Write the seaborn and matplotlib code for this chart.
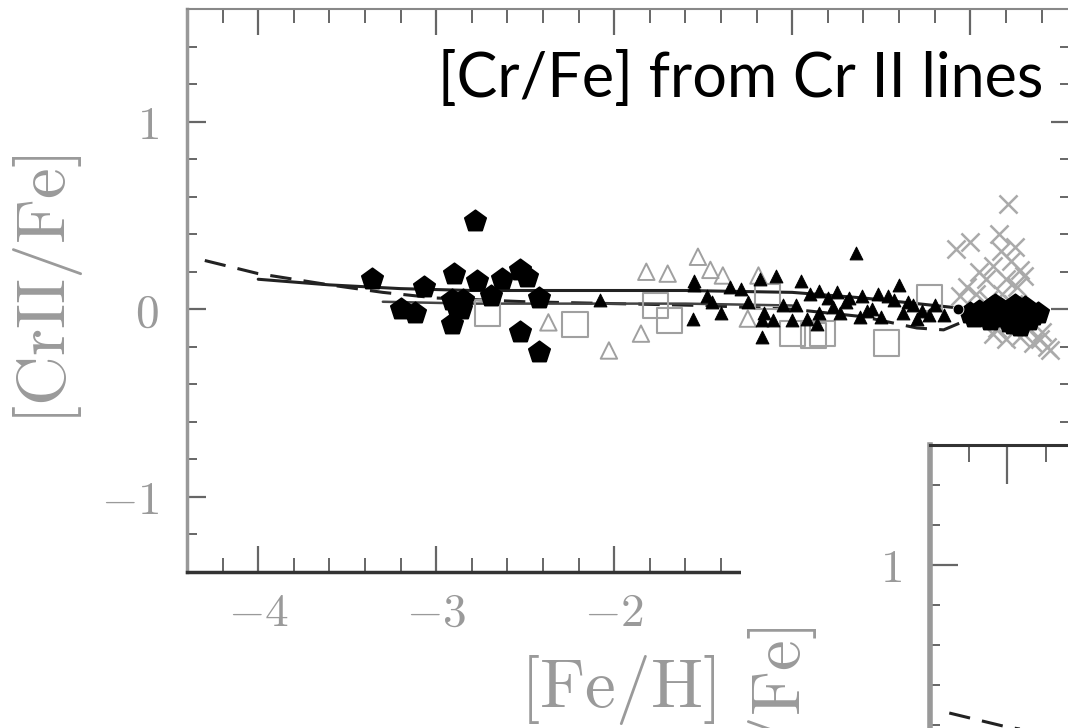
import numpy as np
import pandas as pd
import matplotlib
matplotlib.use("Agg")
import matplotlib.pyplot as plt
import seaborn as sns
from matplotlib.patches import Rectangle
from matplotlib.ticker import MultipleLocator

# ==== data ([Fe/H], [CrII/Fe]) ====
pent_x = [-3.36, -3.07, -2.90, -2.78, -2.77, -2.63, -2.53, -2.49, -2.69, -2.42, -2.91, -2.85,
          -2.86, -3.20, -3.12, -2.91, -2.53, -2.42, -2.89,
          0.05, 0.17, 0.28, 0.35, 0.11, 0.22, 0.28, 0.02, 0.14, 0.31,
          0.08, 0.19, 0.25, 0.33, 0.12, 0.38, 0.00, 0.24]
pent_y = [0.16, 0.12, 0.19, 0.47, 0.15, 0.16, 0.21, 0.17, 0.07, 0.06, 0.05, 0.05,
          0.00, 0.00, -0.02, -0.08, -0.12, -0.23, 0.02,
          -0.01, 0.00, -0.01, -0.03, -0.06, -0.07, -0.09, -0.04, 0.02, 0.01,
          -0.03, -0.04, 0.02, -0.06, 0.01, -0.02, -0.02, -0.08]

tri_x = [-2.08, -1.55, -1.48, -1.40, -1.56, -1.29, -1.18, -1.09, -0.95, -0.85, -1.17, -1.17,
         -1.11, -1.00, -0.86, -0.77, -1.55, -1.16, -0.64, -0.40, -0.61, -0.43, -0.73, -0.62,
         -0.38, -0.23, -0.85, -0.70, -0.55, -0.50, -0.32, -0.27, -0.90, -0.98, -0.80, -0.46,
         -1.35, -1.25, -1.05, -0.92, -0.68, -0.58, -0.52, -0.35, -0.30, -0.20, -0.75, -1.45,
         -0.15]
tri_y = [0.05, 0.15, 0.07, -0.02, -0.05, 0.11, 0.16, 0.18, 0.15, 0.10, -0.06, -0.15,
         -0.06, -0.06, -0.08, 0.01, 0.13, -0.02, 0.30, 0.13, 0.07, 0.05, -0.02, -0.04,
         -0.02, -0.03, -0.02, 0.04, 0.00, -0.04, 0.02, -0.01, 0.08, 0.02, 0.06, 0.07,
         0.12, 0.04, 0.02, -0.05, 0.06, -0.01, 0.08, 0.04, -0.05, 0.02, 0.09, 0.04,
         -0.03]

otri_x = [-2.37, -1.82, -1.70, -1.53, -1.46, -1.39, -1.85, -2.03, -1.19, -1.25]
otri_y = [-0.07, 0.20, 0.19, 0.28, 0.21, 0.18, -0.13, -0.22, 0.18, -0.05]

sq_x = [-2.71, -2.22, -1.77, -1.69, -1.14, -1.00, -0.88, -0.47, -0.23, -0.83]
sq_y = [-0.02, -0.08, 0.02, -0.06, 0.07, -0.13, -0.14, -0.18, 0.06, -0.13]

cross_x = [0.21, -0.08, 0.00, 0.16, 0.17, 0.23, 0.28, 0.13, 0.20, 0.09, -0.02, 0.03,
           -0.06, 0.26, 0.13, 0.28, 0.35, 0.43, 0.20, 0.39, 0.32, 0.24,
           0.10, 0.18, 0.05, 0.30, 0.15, 0.40, 0.45, 0.25]
cross_y = [0.56, 0.32, 0.36, 0.40, 0.31, 0.26, 0.21, 0.23, 0.16, 0.16, 0.12, 0.08,
           0.07, 0.12, -0.13, -0.15, -0.18, -0.20, -0.16, -0.16, -0.10, 0.03,
           0.05, 0.08, 0.20, 0.18, -0.10, -0.12, -0.22, 0.33]

dot_x = [-0.07]
dot_y = [0.00]

# model curves
dash_x = [-4.3, -4.0, -3.6, -3.3, -3.0, -2.5, -2.0, -1.5, -1.0, -0.6, -0.3, -0.15, 0.0]
dash_y = [0.26, 0.19, 0.13, 0.09, 0.06, 0.04, 0.03, 0.02, 0.00, -0.04, -0.10, -0.11, -0.05]
solid1_x = [-4.0, -3.6, -3.2, -2.8, -2.2, -1.6, -1.0, -0.6, -0.3, 0.0]
solid1_y = [0.16, 0.13, 0.11, 0.10, 0.10, 0.10, 0.09, 0.06, 0.03, 0.0]
solid2_x = [-3.3, -2.8, -2.2, -1.6, -1.0]
solid2_y = [0.04, 0.03, 0.03, 0.03, 0.02]

x_ticks = [-4, -3, -2, -1, 0]
y_ticks = [-1, 0, 1]

sns.set_style("ticks")
plt.rcParams['mathtext.fontset'] = 'cm'

W, H = 1068, 728
fig = plt.figure(figsize=(W / 100, H / 100), dpi=100)
label_col = '#9a9a9a'

def fx(px):
    return px / W

def fy(py):
    return 1 - py / H

def style_axes(ax, lab_size=34):
    ax.set_xlim(-4.4, 0.56)
    ax.set_ylim(-1.4, 1.6)
    ax.set_xticks(x_ticks)
    ax.set_xticklabels([r'$%d$' % t for t in x_ticks])
    ax.set_yticks(y_ticks)
    ax.set_yticklabels([r'$%d$' % t for t in y_ticks])
    ax.xaxis.set_minor_locator(MultipleLocator(0.2))
    ax.yaxis.set_minor_locator(MultipleLocator(0.2))
    ax.tick_params(which='both', direction='in', top=True, right=True,
                   colors='#666666', labelcolor=label_col, labelsize=lab_size)
    ax.tick_params(axis='x', which='major', length=19, width=1.6, pad=14)
    ax.tick_params(axis='x', which='minor', length=10, width=1.4)
    ax.tick_params(axis='y', which='major', length=14, width=1.6, pad=20)
    ax.tick_params(axis='y', which='minor', length=7, width=1.4)
    for s in ['top', 'right']:
        ax.spines[s].set_color('#888888')
        ax.spines[s].set_linewidth(1.5)
    ax.spines['left'].set_color('#999999')
    ax.spines['left'].set_linewidth(2.5)
    ax.spines['bottom'].set_color('#333333')
    ax.spines['bottom'].set_linewidth(2.5)

# ==== main panel ====
ax = fig.add_axes([fx(187), fy(571.7), fx(1070 - 187), (571.7 - 9.3) / H])
style_axes(ax)

sns.lineplot(x=dash_x, y=dash_y, ax=ax, color='#222222', lw=2.2, linestyle=(0, (7, 4)),
             sort=False, estimator=None)
sns.lineplot(x=solid1_x, y=solid1_y, ax=ax, color='#222222', lw=2.2, sort=False, estimator=None)
sns.lineplot(x=solid2_x, y=solid2_y, ax=ax, color='#444444', lw=1.8, sort=False, estimator=None)

sns.scatterplot(x=cross_x, y=cross_y, ax=ax, marker='x', s=170, color='#aaaaaa',
                linewidth=1.8, zorder=3)
sns.scatterplot(x=sq_x, y=sq_y, ax=ax, marker='s', s=330, facecolor='none',
                edgecolor='#a0a0a0', linewidth=1.5, zorder=3)
sns.scatterplot(x=otri_x, y=otri_y, ax=ax, marker='^', s=140, facecolor='none',
                edgecolor='#a0a0a0', linewidth=1.4, zorder=3)
sns.scatterplot(x=tri_x, y=tri_y, ax=ax, marker='^', s=85, color='black',
                edgecolor='black', zorder=4)
sns.scatterplot(x=pent_x, y=pent_y, ax=ax, marker='p', s=260, color='black',
                edgecolor='black', zorder=5)
sns.scatterplot(x=dot_x, y=dot_y, ax=ax, marker='o', s=60, color='black', zorder=5)

ax.set_xlabel(r'$\mathrm{[Fe/H]}$', fontsize=50, color=label_col, va='center')
ax.xaxis.set_label_coords((618 - 187) / 883, (571.7 - 690) / 562.4)
ax.set_ylabel(r'$\mathrm{[CrII/Fe]}$', fontsize=50, color=label_col, va='center')
ax.yaxis.set_label_coords((48 - 187) / 883, (571.7 - 290) / 562.4)

# ==== white patch of the second slide panel ====
fig.add_artist(Rectangle((fx(741), 0), 1 - fx(741), fy(432), transform=fig.transFigure,
                         facecolor='white', edgecolor='none', zorder=2))

# ==== second panel, mostly off the slide ====
ax2 = fig.add_axes([fx(930), fy(445 + 600), 955 / W, 600 / H], zorder=3)
style_axes(ax2)
ax2.tick_params(axis='x', which='major', length=28)
ax2.tick_params(axis='x', which='minor', length=12)
ax2.tick_params(axis='y', which='major', length=20)
ax2.spines['top'].set_color('#333333')
ax2.spines['top'].set_linewidth(2.2)
ax2.spines['left'].set_linewidth(4)
sns.lineplot(x=dash_x, y=dash_y, ax=ax2, color='#222222', lw=2.2, linestyle=(0, (7, 4)),
             sort=False, estimator=None)
fig.text(fx(783), fy(627), r'$\mathrm{[CrI/Fe]}$', rotation=90, ha='center', va='top',
         fontsize=50, color=label_col, zorder=4)

fig.text(fx(1043), fy(80), '[Cr/Fe] from Cr II lines', ha='right', va='center',
         fontsize=44, family='Lato', color='black', zorder=6)

fig.savefig('out.png', dpi=100)
